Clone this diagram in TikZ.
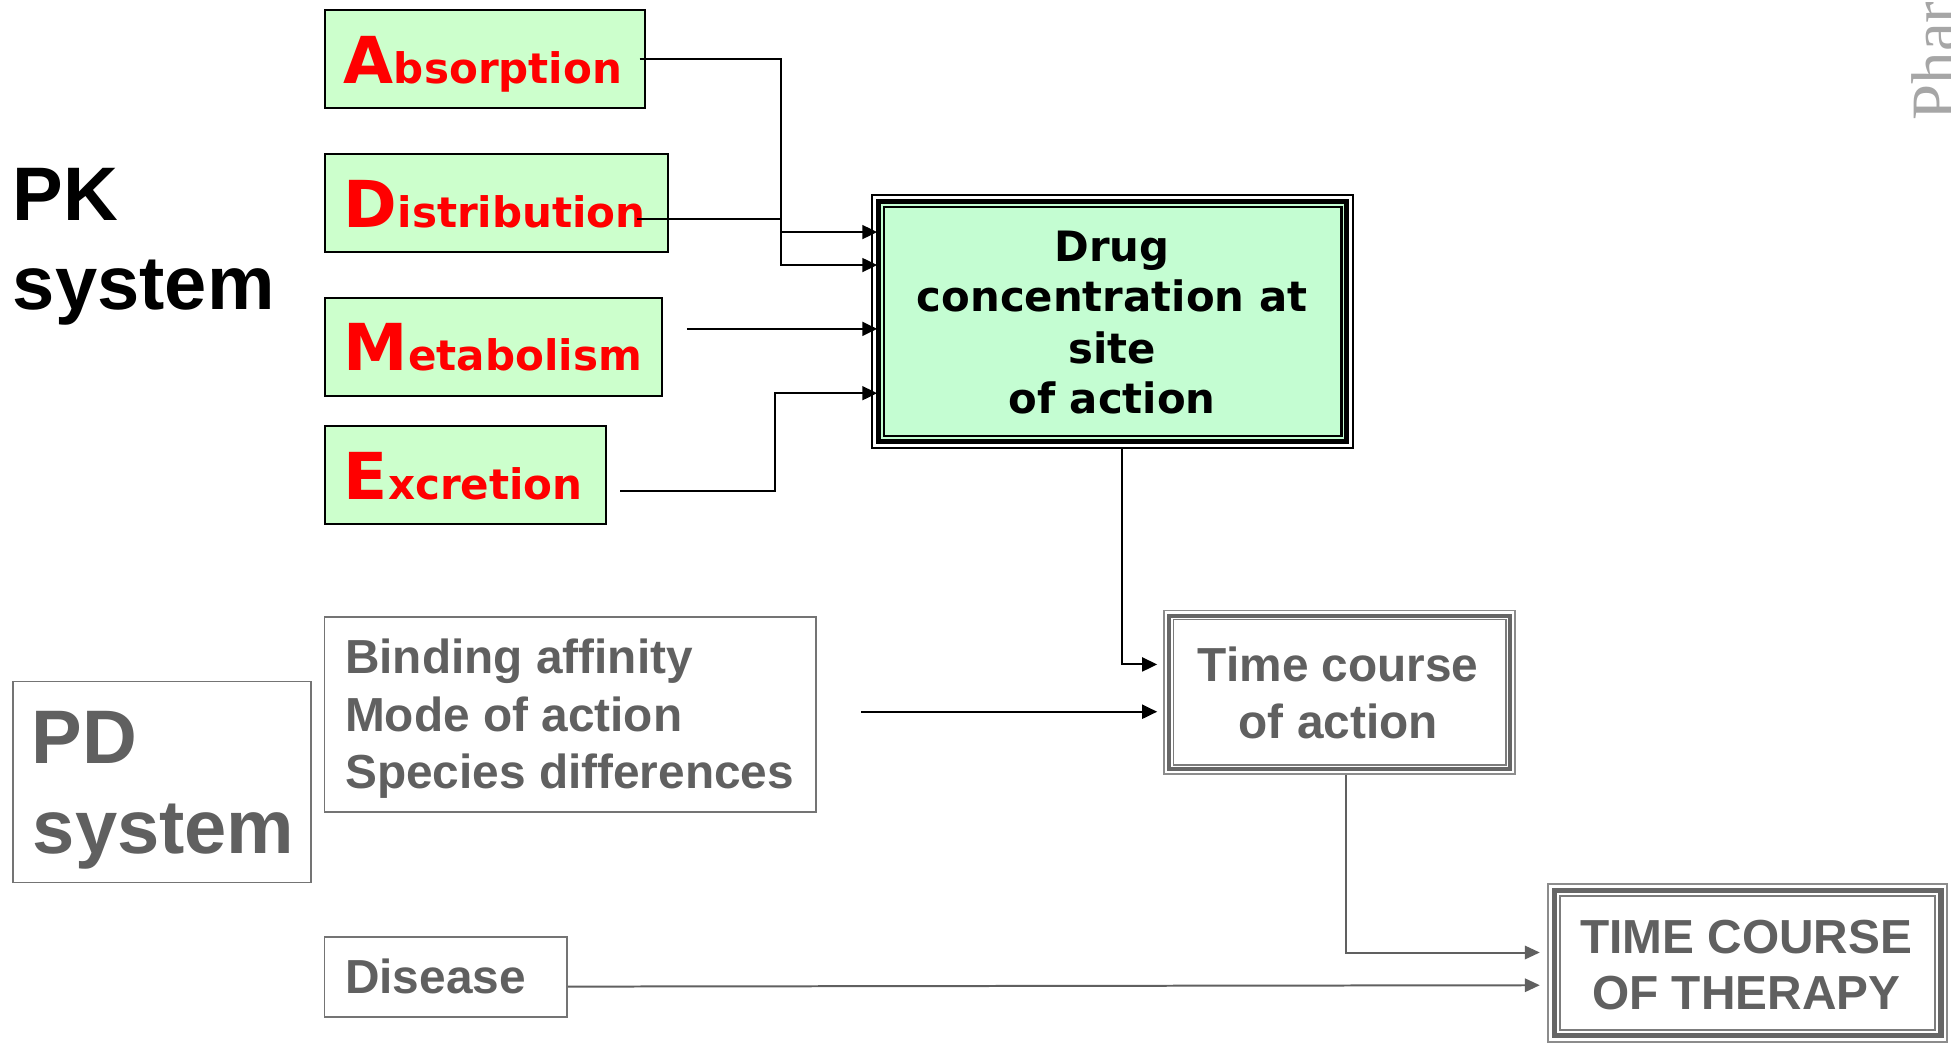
\documentclass[tikz,border=0pt]{standalone}
\usepackage{fontspec}
\setmainfont{Liberation Sans}
\newfontfamily\dvsans{DejaVu Sans}
\newfontfamily\lserif{Liberation Serif}
\usetikzlibrary{arrows.meta,calc}

\definecolor{pkgreen}{HTML}{CCFFCC}
\definecolor{druggreen}{HTML}{C4FDD2}
\definecolor{pdgray}{HTML}{606060}
\definecolor{pdline}{HTML}{747474}
\definecolor{ringout}{HTML}{8C8C8C}
\definecolor{ringmid}{HTML}{666666}
\definecolor{ringin}{HTML}{7C7C7C}
\definecolor{wmark}{HTML}{A6A6A6}

% large initial letter of the PK process names
\newcommand{\pkcap}[1]{{\fontsize{26}{30}\selectfont #1}}

\begin{document}
\begin{tikzpicture}[x=0.5pt,y=-0.5pt,
  wh/.style 2 args={minimum width={#1*0.5pt},minimum height={#2*0.5pt}},
  pkbox/.style={draw=black,line width=0.8pt,fill=pkgreen,anchor=north west,inner sep=0pt},
  pdbox/.style={draw=pdline,line width=0.7pt,anchor=north west,inner sep=0pt},
  ringbox/.style={anchor=north west,inner sep=0pt},
  pkword/.style={anchor=base west,inner sep=0pt,text=red,font=\dvsans\bfseries\fontsize{16.9}{20}\selectfont},
  systxt/.style={anchor=base west,inner sep=0pt,font=\bfseries\fontsize{30.5}{36}\selectfont},
  drugtxt/.style={anchor=base,inner sep=0pt,font=\dvsans\bfseries\fontsize{16.8}{20}\selectfont},
  gtxt/.style={inner sep=0pt,text=pdgray,font=\bfseries\fontsize{19.2}{23}\selectfont},
  conn/.style={draw=black,line width=0.8pt,-{Triangle[length=6pt,width=5.6pt]}},
  gconn/.style={draw=pdgray,line width=0.8pt,-{Triangle[length=6pt,width=5.4pt]}}
]
\useasboundingbox (0,0) rectangle (1568,837.5);
\fill[white] (0,0) rectangle (1568,837.5);

% side mark, cut by the page edge
\node[rotate=90,anchor=base west,inner sep=0pt,text=wmark,
      font=\lserif\fontsize{26}{30}\selectfont] (wm) at (1572,97) {Phar};

% ---------- PK system ----------
\node[systxt] (pk1) at (10,177) {PK};
\node[systxt] (pk2) at (10,249) {system};

\node[pkbox,wh={257.5}{79}]  (abs)  at (260,7)     {};
\node[pkbox,wh={276}{78.5}]  (dist) at (260,123)   {};
\node[pkbox,wh={271}{79}]    (met)  at (260,238.5) {};
\node[pkbox,wh={226.5}{78.5}] (exc) at (260,341.5) {};

\node[pkword] (abst)  at (276,67)  {\pkcap{A}bsorption};
\node[pkword] (distt) at (276,183) {\pkcap{D}istribution};
\node[pkword] (mett)  at (276,298) {\pkcap{M}etabolism};
\node[pkword] (exct)  at (276,401.5) {\pkcap{E}xcretion};

% drug concentration box with triple frame
\node[ringbox,wh={387.5}{204}] (drug) at (700,156) {};
\fill[druggreen] ($(drug.north west)+(5.8,5.8)$) rectangle ($(drug.south east)+(-5.8,-5.8)$);
\foreach \ii/\ww in {0.95/1.9, 5.8/4, 10.3/1.9}
  \draw[line width=\ww*0.5pt] ($(drug.north west)+(\ii,\ii)$) rectangle ($(drug.south east)+(-\ii,-\ii)$);
\node[drugtxt] (d1) at (893.75,210)   {Drug};
\node[drugtxt] (d2) at (893.75,250.7) {concentration at};
\node[drugtxt] (d3) at (893.75,292.5) {site};
\node[drugtxt] (d4) at (893.75,332.3) {of action};

% ---------- PD system ----------
\node[pdbox,wh={239}{161.5}] (pd) at (10,547) {};
\node[systxt,text=pdgray] (pd1) at (25,614) {PD};
\node[systxt,text=pdgray] (pd2) at (26,686) {system};

\node[pdbox,wh={395}{157}] (bind) at (260,495) {};
\node[gtxt,anchor=base west] (b1) at (277,541) {Binding affinity};
\node[gtxt,anchor=base west] (b2) at (277,588) {Mode of action};
\node[gtxt,anchor=base west] (b3) at (277,634) {Species differences};

\node[pdbox,wh={195}{64}] (dis) at (260,752.5) {};
\node[gtxt,anchor=base west] (dist1) at (277,798.3) {Disease};

% time course of action
\node[ringbox,wh={282.5}{132}] (tca) at (935,490) {};
\foreach \ii/\ww/\cc in {0.6/1.2/ringout, 4.8/3.4/ringmid, 8.0/1.2/ringin}
  \draw[\cc,line width=\ww*0.5pt] ($(tca.north west)+(\ii,\ii)$) rectangle ($(tca.south east)+(-\ii,-\ii)$);
\node[gtxt,anchor=base] (t1) at (1075.5,547.3) {Time course};
\node[gtxt,anchor=base] (t2) at (1075.5,593.4) {of action};

% time course of therapy
\node[ringbox,wh={321.5}{128}] (tcr) at (1243.5,709.5) {};
\foreach \ii/\ww/\cc in {0.8/1.6/ringout, 5.9/4.2/ringmid, 10.4/1.6/ringin}
  \draw[\cc,line width=\ww*0.5pt] ($(tcr.north west)+(\ii,\ii)$) rectangle ($(tcr.south east)+(-\ii,-\ii)$);
\node[gtxt,anchor=base] (r1) at (1403.5,766.7) {TIME COURSE};
\node[gtxt,anchor=base] (r2) at (1403.5,811.2) {OF THERAPY};

% ---------- connectors ----------
\coordinate (m0) at (552,264.3);
\coordinate (b0) at (692,572);

\draw[conn] ($(abs.east)+(-5,0)$) -| ($(drug.north west)+(-72,57)$) -- ($(drug.north west)+(5,57)$);
\draw[conn] ($(dist.south west)+(252,-27.3)$) -| ($(drug.north west)+(-72.5,30.5)$) -- ($(drug.north west)+(5,30.5)$);
\draw[conn] (m0) -- ($(drug.north west)+(5,108.3)$);
\draw[conn] ($(exc.south east)+(10.5,-27)$) -| ($(drug.north west)+(-77,160)$) -- ($(drug.north west)+(5,160)$);

\draw[conn] ($(drug.south)+(7.5,0)$) |- ($(tca.north west)+(-5,44)$);
\draw[conn] (b0) -- ($(tca.north west)+(-5,82)$);

\draw[gconn] ($(tca.south west)+(147,0)$) |- ($(tcr.north west)+(-6,56)$);
\draw[gconn] ($(dis.south east)+(0,-25)$) -- ($(tcr.north west)+(-6,82.3)$);
\end{tikzpicture}
\end{document}
